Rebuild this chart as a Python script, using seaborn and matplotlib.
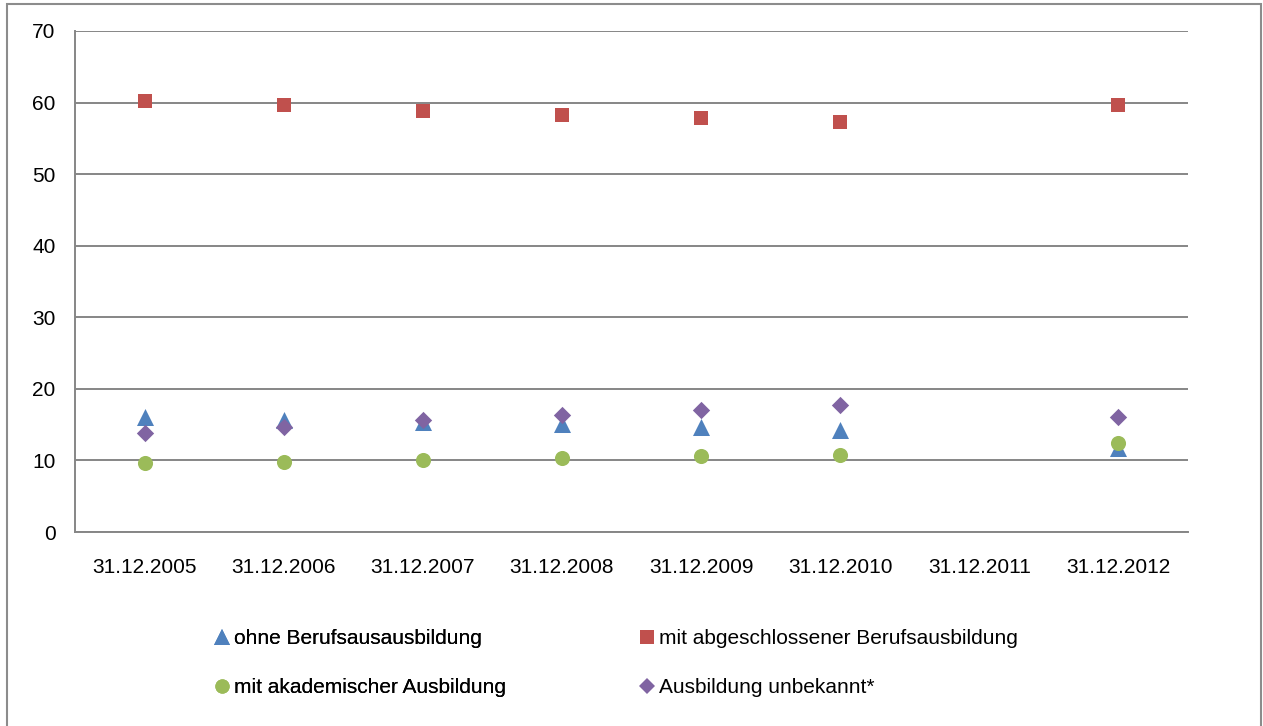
import numpy as np
import matplotlib
matplotlib.use("Agg")
import matplotlib.pyplot as plt
from matplotlib.patches import Rectangle
from matplotlib.lines import Line2D
import seaborn as sns

# Stichtage and shares (in %) per education group; 2011 has no values
dates = ["31.12.2005", "31.12.2006", "31.12.2007", "31.12.2008",
         "31.12.2009", "31.12.2010", "31.12.2011", "31.12.2012"]
ohne_ausbildung = [16.0, 15.6, 15.3, 15.1, 14.7, 14.2, np.nan, 11.8]
mit_berufsausbildung = [60.2, 59.7, 58.8, 58.2, 57.8, 57.3, np.nan, 59.6]
akademisch = [9.7, 9.8, 10.0, 10.3, 10.6, 10.8, np.nan, 12.5]
unbekannt = [13.8, 14.7, 15.6, 16.4, 17.0, 17.7, np.nan, 16.0]

series_names = ["ohne Berufsausausbildung", "mit abgeschlossener Berufsausbildung",
                "mit akademischer Ausbildung", "Ausbildung unbekannt*"]
yticks = [0, 10, 20, 30, 40, 50, 60, 70]

sns.set_theme(style="white")
plt.rcParams["font.family"] = ["Liberation Sans", "DejaVu Sans"]
plt.rcParams["font.size"] = 15
plt.rcParams["text.color"] = "black"

fig = plt.figure(figsize=(12.63, 7.26), dpi=100)
ax = fig.add_axes([75 / 1263, 1 - 532 / 726, (1188 - 75) / 1263, (532 - 31) / 726])

x = np.arange(len(dates))
styles = [
    (ohne_ausbildung, "^", 150, "#4F81BD"),
    (mit_berufsausbildung, "s", 100, "#C0504D"),
    (akademisch, "o", 118, "#9BBB59"),
    (unbekannt, "D", 78, "#8064A2"),
]
for (vals, mk, size, col), name in zip(styles, series_names):
    sns.scatterplot(x=x, y=vals, marker=mk, s=size, color=col,
                    linewidth=0, label=name, ax=ax, zorder=3, legend=False)

ax.set_xlim(-0.5, len(dates) - 0.5)
ax.set_ylim(0, 70)
ax.set_yticks(yticks)
ax.set_xticks(x)
ax.set_xticklabels(dates)
ax.yaxis.grid(True, color="#868686", linewidth=1.4)
ax.xaxis.grid(False)
ax.set_axisbelow(True)
for side in ("top", "right"):
    ax.spines[side].set_visible(False)
for side in ("left", "bottom"):
    ax.spines[side].set_color("#868686")
    ax.spines[side].set_linewidth(1.4)
ax.tick_params(axis="both", length=0, labelsize=15, colors="black")
ax.tick_params(axis="x", pad=19)
ax.tick_params(axis="y", pad=14)

# Legend, two columns below the plot
handles = [Line2D([], [], linestyle="none", marker=mk, color=col,
                  markersize=np.sqrt(size) * 0.95, markeredgewidth=0)
           for (_, mk, size, col) in styles]
common = dict(frameon=False, fontsize=15, handlelength=0.75, handletextpad=0.2,
              labelspacing=1.45, borderpad=0, borderaxespad=0,
              loc="center left", bbox_transform=fig.transFigure,
              labelcolor="black")
leg1 = fig.legend([handles[0], handles[2]], [series_names[0], series_names[2]],
                  bbox_to_anchor=(214 / 1263, 1 - 663 / 726), **common)
fig.add_artist(leg1)
fig.legend([handles[1], handles[3]], [series_names[1], series_names[3]],
           bbox_to_anchor=(639 / 1263, 1 - 663 / 726), **common)

# Chart area frame
fig.add_artist(Rectangle((7 / 1263, -0.05), (1261 - 7) / 1263, 1.05 - 4 / 726,
                         transform=fig.transFigure, fill=False,
                         edgecolor="#8c8c8c", linewidth=1.5, clip_on=False))

fig.savefig("out.png", dpi=100)
